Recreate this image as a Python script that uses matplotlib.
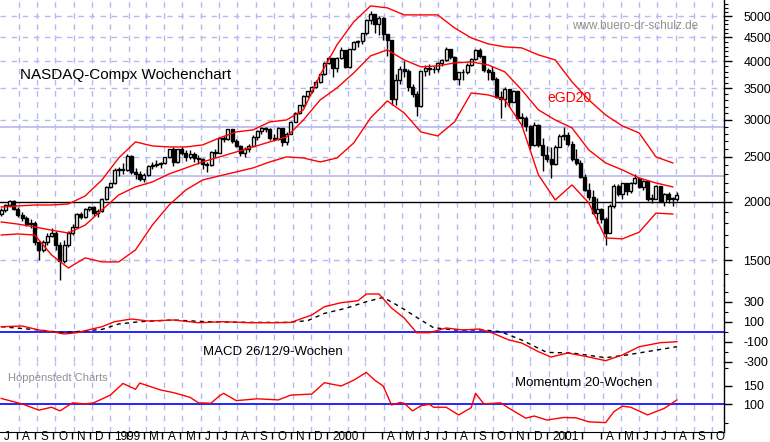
import matplotlib
matplotlib.use("Agg")
import matplotlib.pyplot as plt
import numpy as np
import datetime as dt

plt.rcParams['font.family'] = ['Liberation Sans', 'DejaVu Sans']

# ---------------- data ----------------
first_week = dt.date(1998, 7, 3)
closes = [1925,1968,2014,1930,1873,1850,1790,1800,1640,1575,1640,1695,1720,1614,1492,1620,1715,1771,1880,1860,
          1930,1950,1890,1910,2030,2150,2193,2344,2348,2339,2505,2320,2290,2240,2288,2390,2400,2410,2420,2490,
          2590,2430,2590,2540,2500,2530,2480,2470,2410,2400,2560,2550,2740,2730,2860,2700,2640,2540,2600,2640,
          2760,2840,2880,2870,2740,2730,2880,2690,2800,2970,3100,3220,3370,3450,3520,3620,3750,3970,4069,3880,
          4064,4235,3887,4244,4395,4411,4590,4914,5048,4798,4964,4573,4446,3321,3643,3860,3817,3529,3410,3205,
          3813,3874,3860,3845,3966,4023,4246,4094,3663,3787,3789,3930,4042,4234,4098,3835,3803,3673,3361,3317,
          3483,3278,3451,3028,3028,2904,2645,2917,2653,2517,2470,2407,2626,2770,2781,2660,2470,2425,2262,2117,
          2052,1891,1928,1840,1720,1961,2163,2075,2192,2107,2198,2251,2150,2215,2028,2034,2160,2004,2084,2029,
          2029,2066]
highs = [1940,1980,2020,2015,1950,1900,1870,1840,1820,1650,1660,1720,1760,1730,1640,1660,1730,1790,1890,1900,
         1940,1960,1960,1930,2040,2160,2200,2360,2380,2420,2530,2520,2360,2330,2310,2400,2430,2460,2440,2500,
         2600,2620,2600,2620,2580,2580,2560,2520,2480,2430,2570,2590,2745,2770,2870,2860,2730,2650,2620,2660,
         2780,2850,2900,2900,2880,2790,2890,2880,2820,2980,3110,3230,3380,3460,3540,3640,3760,3980,4100,4070,
         4080,4290,4240,4260,4420,4450,4600,4930,5130,5060,5000,4970,4560,4440,3750,3900,4000,3850,3570,3450,
         3820,3930,3950,3910,3980,4040,4290,4260,4100,3800,3850,3960,4060,4260,4270,4110,3880,3900,3700,3450,
         3530,3480,3480,3450,3100,3050,2920,2970,2930,2740,2630,2620,2650,2800,2890,2820,2700,2590,2460,2300,
         2200,2120,2040,1940,1860,1980,2180,2190,2200,2200,2210,2300,2240,2230,2200,2080,2170,2160,2090,2100,
         2050,2100]
lows = [1870,1900,1950,1920,1860,1820,1780,1760,1620,1500,1560,1620,1680,1580,1360,1480,1600,1700,1760,1840,
        1850,1910,1870,1860,1900,2020,2140,2190,2270,2300,2330,2300,2240,2220,2210,2270,2350,2380,2360,2410,
        2480,2390,2420,2520,2450,2470,2440,2410,2350,2320,2390,2500,2540,2690,2720,2680,2620,2510,2490,2560,
        2630,2720,2800,2820,2720,2700,2710,2640,2650,2790,2960,3080,3200,3340,3430,3500,3600,3740,3950,3700,
        3800,4050,3880,3870,4230,4300,4360,4560,4800,4600,4550,4440,4100,3220,3220,3580,3700,3450,3350,3050,
        3200,3720,3740,3780,3790,3900,4000,4050,3650,3560,3650,3760,3900,4030,4060,3800,3650,3640,3340,3030,
        3200,3190,3270,3010,2900,2840,2600,2640,2620,2330,2430,2250,2400,2620,2720,2640,2450,2400,2250,2110,
        2020,1880,1800,1800,1620,1720,1940,2060,2030,2070,2090,2190,2140,2120,2010,1990,2030,2000,1960,1990,
        1960,2010]

band_weeks = list(range(0, 161, 4))
band_upper = [1951,1961,1970,1970,1980,2060,2229,2484,2689,2636,2623,2623,2649,2742,2824,2853,2967,2996,3148,3741,
              4338,4859,5257,5206,5029,5029,5029,4717,4490,4359,4295,4274,4129,4028,3614,3307,3071,2909,2810,2497,2424]
band_mid = [1812,1793,1768,1740,1716,1784,1922,2070,2154,2207,2296,2365,2436,2497,2559,2623,2689,2756,2996,3307,
            3509,3778,4109,4232,4028,3892,3911,3969,3989,3930,3797,3475,3148,2996,2881,2584,2424,2342,2251,2196,2154]
band_lower = [1699,1708,1699,1540,1444,1518,1488,1488,1579,1784,1970,2122,2229,2274,2319,2365,2436,2497,2484,2436,
              2484,2675,3026,3291,3102,2824,2769,2967,3423,3390,3307,2924,2285,2020,2175,1990,1675,1667,1723,1893,1884]

macd_weeks = [0,5,9,12,15,18,24,27,31,35,41,47,53,59,65,69,74,77,81,85,87,90,93,96,99,102,106,110,114,117,121,124,128,131,135,140,144,148,152,157,161]
macd_vals = [50,57,17,0,-23,-10,50,100,127,107,117,90,100,90,90,93,167,250,290,310,377,377,237,137,-10,-10,37,17,27,-13,-83,-113,-200,-253,-213,-253,-290,-233,-150,-110,-100]
signal_weeks = [0,9,15,24,28,33,41,49,59,68,73,77,82,87,91,95,100,103,108,115,119,124,130,136,144,149,161]
signal_vals = [50,17,-10,23,77,100,117,100,93,93,110,183,233,300,343,250,117,40,17,17,0,-83,-207,-213,-260,-233,-150]

mom_weeks = [0,5,9,12,14,17,20,22,26,29,32,33,38,41,45,47,50,52,53,56,61,66,69,74,77,81,84,87,89,91,93,95,96,98,100,102,103,106,109,112,113,115,119,121,125,127,130,134,137,140,144,146,148,150,154,158,161]
mom_vals = [116,101,84,92,82,104,101,104,125,157,141,158,139,132,119,104,103,123,130,110,115,112,125,128,159,150,166,187,166,150,98,105,103,82,96,100,92,92,71,91,130,101,104,89,62,68,57,64,63,52,50,80,95,92,71,89,112]

price_ticks = [1500, 2000, 2500, 3000, 3500, 4000, 4500, 5000]
fib_levels = [2274, 2896]
macd_ticks = [300, 100, -100, -300]
mom_ticks = [150, 100]

# ---------------- layout ----------------
W, H = 770, 442
fig = plt.figure(figsize=(W/100, H/100), dpi=100)
fig.patch.set_facecolor('white')
RIGHT = 724
def ax_px(top, bottom):
    return fig.add_axes([0, 1-bottom/H, RIGHT/W, (bottom-top)/H])

origin = dt.date(1998, 7, 1)
def days(d):
    return (d - origin).days
week_days = [days(first_week) + 7*k for k in range(len(closes))]
def wk2d(ws):
    return [days(first_week) + 7*w for w in ws]
xmax = RIGHT/0.5996

ax1 = ax_px(0, 285)
ax2 = ax_px(285, 362)
ax3 = ax_px(362, 432)
for ax in (ax1, ax2, ax3):
    ax.set_xlim(0, xmax)
    ax.patch.set_alpha(0)
    for s in ('top', 'left', 'bottom'):
        ax.spines[s].set_visible(False)
    ax.spines['right'].set_linewidth(1)
    ax.set_xticks([])
    ax.yaxis.tick_right()
    ax.tick_params(axis='y', direction='out', length=6, width=1, labelsize=9, pad=8)
    ax.tick_params(axis='y', which='minor', direction='out', length=3, width=0.8)

months = []
y, m = 1998, 7
while (y, m) <= (2001, 10):
    months.append(dt.date(y, m, 1))
    m += 1
    if m > 12:
        m = 1; y += 1
grid_col = '#b8b8f0'
for ax in (ax1, ax2, ax3):
    for md in months[1:]:
        ax.axvline(days(md), color=grid_col, lw=1, ls=(0, (4, 4)), zorder=0)

# main panel
ax1.set_yscale('log')
ax1.set_ylim(1328, 5412)
for p in price_ticks:
    if p != 2000:
        ax1.axhline(p, color=grid_col, lw=1, ls=(0, (4, 4)), zorder=0)
for p in fib_levels:
    ax1.axhline(p, color=grid_col, lw=1.2, zorder=0)
ax1.axhline(2000, color='black', lw=1, zorder=1)
ax1.set_yticks(price_ticks)
ax1.set_yticklabels([str(p) for p in price_ticks])
ax1.set_yticks(list(range(1400, 5400, 100)), minor=True)
ax1.yaxis.set_minor_formatter(matplotlib.ticker.NullFormatter())

opens = [1880] + closes[:-1]
for x, o, c, h, l in zip(week_days, opens, closes, highs, lows):
    ax1.vlines(x, l, h, color='black', lw=1, zorder=3)
    lo_b, hi_b = min(o, c), max(o, c)
    if hi_b - lo_b < 8:
        hi_b = lo_b + 8
    ax1.bar(x, hi_b - lo_b, bottom=lo_b, width=5, color='white' if c >= o else 'black',
            edgecolor='black', lw=1, zorder=4)

bd = wk2d(band_weeks)
for b in (band_upper, band_mid, band_lower):
    ax1.plot(bd, b, color='red', lw=1, zorder=5)

fig.text(20/W, 1-75/H, 'NASDAQ-Compx Wochenchart', fontsize=11, va='center', ha='left')
fig.text(572/W, 1-26/H, 'www.buero-dr-schulz.de', fontsize=8.5, color='#909090', va='center', ha='left')
fig.text(547/W, 1-98/H, 'eGD20', fontsize=10, color='red', va='center', ha='left')

# MACD panel
ax2.set_ylim((331.7-362)*10, (331.7-285)*10)
ax2.axhline(0, color='#0000ff', lw=1.2, zorder=1)
ax2.plot(wk2d(macd_weeks), macd_vals, color='red', lw=1, zorder=3)
ax2.plot(wk2d(signal_weeks), signal_vals, color='black', lw=1, ls=(0, (3, 3)), zorder=2)
ax2.set_yticks(macd_ticks)
ax2.set_yticklabels([str(v) for v in macd_ticks])
ax2.set_yticks([-200, 0, 200, 400], minor=True)
fig.text(203/W, 1-352/H, 'MACD 26/12/9-Wochen', fontsize=9.5, va='center', ha='left')

# Momentum panel
ax3.set_ylim(100+(404.3-432)*2.73, 100+(404.3-362)*2.73)
ax3.axhline(100, color='#0000ff', lw=1.2, zorder=1)
ax3.plot(wk2d(mom_weeks), mom_vals, color='red', lw=1, zorder=3)
ax3.set_yticks(mom_ticks)
ax3.set_yticklabels([str(v) for v in mom_ticks])
ax3.set_yticks([50, 200], minor=True)
fig.text(8/W, 1-378/H, 'Hoppenstedt Charts', fontsize=8, color='#909090', va='center', ha='left')
fig.text(515/W, 1-383/H, 'Momentum 20-Wochen', fontsize=9.5, va='center', ha='left')

# bottom axis
ax3.spines['bottom'].set_visible(True)
ax3.set_xticks([days(md) - 3 for md in months])
ax3.set_xticklabels([])
ax3.tick_params(axis='x', direction='out', length=5, width=1)
ax3.set_xlim(0, xmax)
skip = {(1999, 2), (2000, 2), (2000, 3), (2001, 2), (2001, 3)}
letters = 'JFMAMJJASOND'
for md in months:
    if (md.year, md.month) in skip:
        continue
    lab = str(md.year) if md.month == 1 else letters[md.month-1]
    px = days(md)*0.5996 + 3.5
    fig.text(px/W, 1-437/H, lab, fontsize=8.5, va='center', ha='left')

fig.savefig('out.png', dpi=100)
